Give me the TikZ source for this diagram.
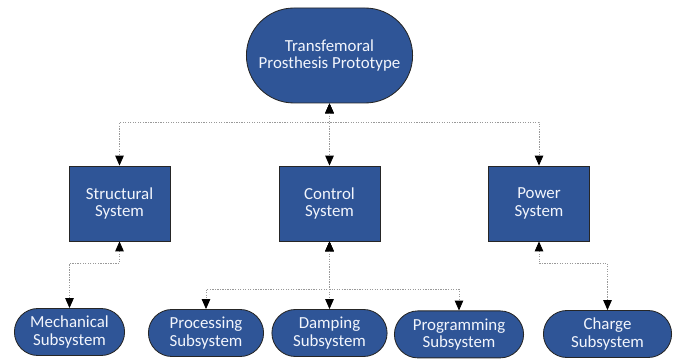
\documentclass[tikz,border=0pt]{standalone}
\usepackage{fontspec}
\setmainfont{Carlito}
\usepackage{xcolor}
\usepackage{tikz}
\usetikzlibrary{arrows.meta,shapes.misc}

\definecolor{boxblue}{HTML}{2F5597}
\definecolor{boxtext}{HTML}{F2F5FC}

\begin{document}
\begin{tikzpicture}[
    base/.style={draw=black!85, line width=0.6pt, fill=boxblue, text=boxtext,
                 align=center, inner sep=1pt, font=\fontsize{12}{12.5}\selectfont},
    proto/.style={base, rounded rectangle, minimum width=4.225cm, minimum height=2.375cm},
    sysbox/.style={base, rectangle, minimum width=2.525cm, minimum height=1.875cm},
    subnode/.style={base, rounded rectangle, minimum height=1.175cm},
    link/.style={{Triangle[length=7pt,width=6pt,color=black]}-{Triangle[length=7pt,width=6pt,color=black]},
                 black!40, dash pattern=on 0.9pt off 0.9pt, line width=0.6pt},
]
\useasboundingbox (0,0) rectangle (16.95,9);

% ── Top: prototype ────────────────────────────────────
\node[proto] (proto) at (8.2375,7.6125) {Transfemoral\\Prosthesis Prototype};

% ── Row 1: systems ────────────────────────────────────
\node[sysbox] (struct) at (2.9875,3.9125)  {Structural\\System};
\node[sysbox] (ctrl)   at (8.2375,3.9125)  {Control\\System};
\node[sysbox] (power)  at (13.475,3.9125)  {Power\\System};

% ── Row 2: subsystems ─────────────────────────────────
\node[subnode, minimum width=2.825cm] (mech)   at (1.7375,0.7)   {Mechanical\\Subsystem};
\node[subnode, minimum width=2.95cm]  (proc)   at (5.15,0.675)   {Processing\\Subsystem};
\node[subnode, minimum width=2.95cm]  (damp)   at (8.2375,0.675) {Damping\\Subsystem};
\node[subnode, minimum width=3.3cm]   (prog)   at (11.475,0.64)  {Programming\\Subsystem};
\node[subnode, minimum width=3.275cm] (charge) at (15.1875,0.65) {Charge\\Subsystem};

% ── Prototype <-> systems ─────────────────────────────
\draw[link] (proto.south) -- ++(0,-0.475) -| (struct.north);
\draw[link] (proto.south) -- (ctrl.north);
\draw[link] (proto.south) -- ++(0,-0.475) -| (power.north);

% ── Systems <-> subsystems ────────────────────────────
\draw[link] (struct.south) -- ++(0,-0.55) -| (mech.north);
\draw[link] (ctrl.south) -- ++(0,-1.2) -| (proc.north);
\draw[link] (ctrl.south) -- (damp.north);
\draw[link] (ctrl.south) -- ++(0,-1.2) -| (prog.north);
\draw[link] (power.south) -- ++(0,-0.55) -| (charge.north);

\end{tikzpicture}
\end{document}
